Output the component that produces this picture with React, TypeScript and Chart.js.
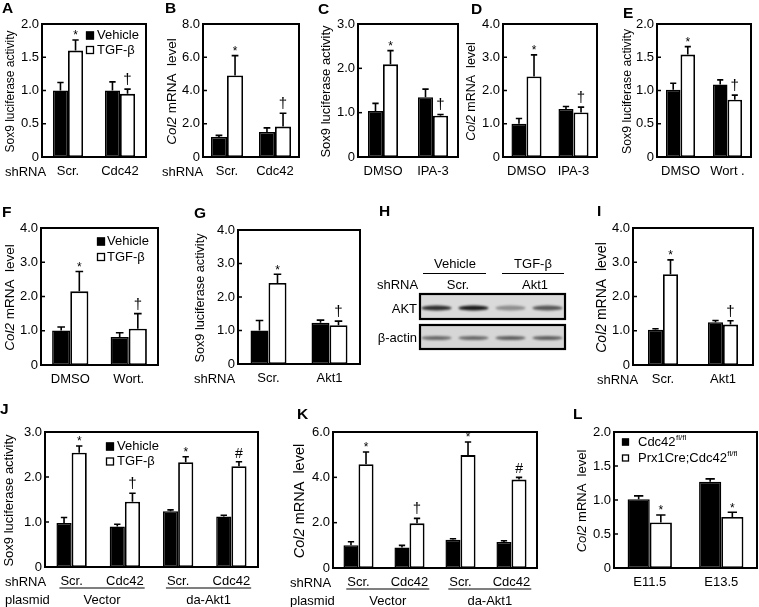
import React, { useEffect, useRef } from "react";
import { Chart, registerables } from "chart.js";

Chart.register(...registerables);

const PAGE_W = 759;
const PAGE_H = 607;
const FONT = "'Liberation Sans', Arial, Helvetica, sans-serif";
const YW = 32;
const XH = 24;

// ---------------- data ----------------
const seriesMain = ["Vehicle", "TGF-β"];
const seriesL = ["Cdc42", "Prx1Cre;Cdc42"];
const seriesSupL = ["fl/fl", "fl/fl"];

const catsA = ["Scr.", "Cdc42"];
const vehA = [1.0, 1.0];
const vehErrA = [1.12, 1.13];
const tgfA = [1.6, 0.95];
const tgfErrA = [1.76, 1.02];
const marksA = ["*", "†"];
const yTicksA = [0, 0.5, 1.0, 1.5, 2.0];

const catsB = ["Scr.", "Cdc42"];
const vehB = [1.2, 1.5];
const vehErrB = [1.3, 1.75];
const tgfB = [4.9, 1.83];
const tgfErrB = [6.1, 2.63];
const marksB = ["*", "†"];
const yTicksB = [0, 2.0, 4.0, 6.0, 8.0];

const catsC = ["DMSO", "IPA-3"];
const vehC = [1.04, 1.35];
const vehErrC = [1.21, 1.53];
const tgfC = [2.09, 0.93];
const tgfErrC = [2.4, 0.96];
const marksC = ["*", "†"];
const yTicksC = [0, 1.0, 2.0, 3.0];

const catsD = ["DMSO", "IPA-3"];
const vehD = [1.0, 1.44];
const vehErrD = [1.16, 1.52];
const tgfD = [2.42, 1.34];
const tgfErrD = [3.07, 1.5];
const marksD = ["*", "†"];
const yTicksD = [0, 1.0, 2.0, 3.0, 4.0];

const catsE = ["DMSO", "Wort ."];
const vehE = [1.01, 1.09];
const vehErrE = [1.11, 1.16];
const tgfE = [1.54, 0.86];
const tgfErrE = [1.66, 0.93];
const marksE = ["*", "†"];
const yTicksE = [0, 0.5, 1.0, 1.5, 2.0];

const catsF = ["DMSO", "Wort."];
const vehF = [1.01, 0.82];
const vehErrF = [1.11, 0.94];
const tgfF = [2.15, 1.06];
const tgfErrF = [2.73, 1.5];
const marksF = ["*", "†"];
const yTicksF = [0, 1.0, 2.0, 3.0, 4.0];

const catsG = ["Scr.", "Akt1"];
const vehG = [1.0, 1.23];
const vehErrG = [1.3, 1.31];
const tgfG = [2.42, 1.16];
const tgfErrG = [2.68, 1.28];
const marksG = ["*", "†"];
const yTicksG = [0, 1.0, 2.0, 3.0, 4.0];

const catsI = ["Scr.", "Akt1"];
const vehI = [1.03, 1.25];
const vehErrI = [1.06, 1.3];
const tgfI = [2.65, 1.18];
const tgfErrI = [3.07, 1.29];
const marksI = ["*", "†"];
const yTicksI = [0, 1.0, 2.0, 3.0, 4.0];

const catsJ = ["Scr.", "Cdc42", "Scr.", "Cdc42"];
const groupsJ = ["Vector", "da-Akt1"];
const vehJ = [0.98, 0.9, 1.24, 1.12];
const vehErrJ = [1.1, 0.95, 1.27, 1.15];
const tgfJ = [2.54, 1.45, 2.33, 2.24];
const tgfErrJ = [2.69, 1.64, 2.45, 2.34];
const marksJ = ["*", "†", "*", "#"];
const yTicksJ = [0, 1.0, 2.0, 3.0];

const catsK = ["Scr.", "Cdc42", "Scr.", "Cdc42"];
const groupsK = ["Vector", "da-Akt1"];
const vehK = [1.0, 0.9, 1.25, 1.15];
const vehErrK = [1.16, 1.0, 1.29, 1.2];
const tgfK = [4.58, 1.97, 4.98, 3.9];
const tgfErrK = [5.12, 2.19, 5.56, 4.0];
const marksK = ["*", "†", "*", "#"];
const yTicksK = [0, 2.0, 4.0, 6.0];

const catsL = ["E11.5", "E13.5"];
const ctrlL = [1.01, 1.27];
const ctrlErrL = [1.06, 1.31];
const koL = [0.67, 0.75];
const koErrL = [0.78, 0.82];
const marksL = ["*", "*"];
const yTicksL = [0, 0.5, 1.0, 1.5, 2.0];

// blot (panel H)
const laneIds = ["Vehicle Scr. 1", "Vehicle Scr. 2", "TGF-β Akt1 1", "TGF-β Akt1 2"];
const aktBands = [0.85, 0.95, 0.38, 0.65];
const actinBands = [0.55, 0.55, 0.6, 0.6];

// ---------------- layout specs ----------------
type Legend = { x: number; y: number; gap: number; dx: number; size: number; sups?: string[] };
type Spec = {
  letter: string;
  letterX: number;
  letterY: number;
  box: [number, number, number, number];
  cats: string[];
  names: string[];
  a: number[];
  aErr: number[];
  b: number[];
  bErr: number[];
  marks: string[];
  yTicks: number[];
  title: "sox" | "col2";
  titleX: number;
  titleSize: number;
  catPct: number;
  shRNAx?: number;
  plasmidX?: number;
  groups?: string[];
  legend?: Legend;
};

const specs: Spec[] = [
  { letter: "A", letterX: 2, letterY: 9, box: [42, 24, 146, 157], cats: catsA, names: seriesMain, a: vehA, aErr: vehErrA, b: tgfA, bErr: tgfErrA, marks: marksA, yTicks: yTicksA, title: "sox", titleX: 11, titleSize: 12, catPct: 0.58, shRNAx: 5, legend: { x: 86, y: 35.5, gap: 14.5, dx: 11, size: 8 } },
  { letter: "B", letterX: 165, letterY: 9, box: [203, 24, 299, 157], cats: catsB, names: seriesMain, a: vehB, aErr: vehErrB, b: tgfB, bErr: tgfErrB, marks: marksB, yTicks: yTicksB, title: "col2", titleX: 172, titleSize: 13.5, catPct: 0.67, shRNAx: 162 },
  { letter: "C", letterX: 318, letterY: 10, box: [358, 24, 458, 157], cats: catsC, names: seriesMain, a: vehC, aErr: vehErrC, b: tgfC, bErr: tgfErrC, marks: marksC, yTicks: yTicksC, title: "sox", titleX: 326, titleSize: 13, catPct: 0.6 },
  { letter: "D", letterX: 471, letterY: 10, box: [503, 24, 597, 157], cats: catsD, names: seriesMain, a: vehD, aErr: vehErrD, b: tgfD, bErr: tgfErrD, marks: marksD, yTicks: yTicksD, title: "col2", titleX: 472, titleSize: 12.5, catPct: 0.64 },
  { letter: "E", letterX: 623, letterY: 14, box: [657, 24, 751, 157], cats: catsE, names: seriesMain, a: vehE, aErr: vehErrE, b: tgfE, bErr: tgfErrE, marks: marksE, yTicks: yTicksE, title: "sox", titleX: 628, titleSize: 12.3, catPct: 0.62 },
  { letter: "F", letterX: 2, letterY: 212.5, box: [41, 228, 158, 365], cats: catsF, names: seriesMain, a: vehF, aErr: vehErrF, b: tgfF, bErr: tgfErrF, marks: marksF, yTicks: yTicksF, title: "col2", titleX: 10, titleSize: 13.5, catPct: 0.62, legend: { x: 97, y: 241.5, gap: 15.5, dx: 10, size: 8 } },
  { letter: "G", letterX: 194, letterY: 213.5, box: [238, 230, 360, 364], cats: catsG, names: seriesMain, a: vehG, aErr: vehErrG, b: tgfG, bErr: tgfErrG, marks: marksG, yTicks: yTicksG, title: "sox", titleX: 200, titleSize: 12.7, catPct: 0.59, shRNAx: 194 },
  { letter: "I", letterX: 597, letterY: 212, box: [633, 228, 753, 365], cats: catsI, names: seriesMain, a: vehI, aErr: vehErrI, b: tgfI, bErr: tgfErrI, marks: marksI, yTicks: yTicksI, title: "col2", titleX: 602, titleSize: 14, catPct: 0.5, shRNAx: 597 },
  { letter: "J", letterX: 0, letterY: 410, box: [45, 432, 258, 567], cats: catsJ, names: seriesMain, a: vehJ, aErr: vehErrJ, b: tgfJ, bErr: tgfErrJ, marks: marksJ, yTicks: yTicksJ, title: "sox", titleX: 9, titleSize: 13, catPct: 0.57, shRNAx: 5, plasmidX: 5, groups: groupsJ, legend: { x: 106, y: 446.5, gap: 15, dx: 11, size: 8 } },
  { letter: "K", letterX: 297, letterY: 414.5, box: [333, 432, 537, 568], cats: catsK, names: seriesMain, a: vehK, aErr: vehErrK, b: tgfK, bErr: tgfErrK, marks: marksK, yTicks: yTicksK, title: "col2", titleX: 300, titleSize: 14.5, catPct: 0.59, shRNAx: 290, plasmidX: 290, groups: groupsK },
  { letter: "L", letterX: 573, letterY: 414.5, box: [614, 432, 757, 568], cats: catsL, names: seriesL, a: ctrlL, aErr: ctrlErrL, b: koL, bErr: koErrL, marks: marksL, yTicks: yTicksL, title: "col2", titleX: 582, titleSize: 13, catPct: 0.62, legend: { x: 622, y: 442, gap: 16, dx: 16, size: 7, sups: seriesSupL } },
];

// ---------------- drawing helpers ----------------
function font(size: number, style = "") {
  return `${style ? style + " " : ""}${size}px ${FONT}`;
}

function txt(ctx: CanvasRenderingContext2D, s: string, x: number, y: number, size: number, align: CanvasTextAlign = "left", style = "") {
  ctx.font = font(size, style);
  ctx.textAlign = align;
  ctx.textBaseline = "middle";
  ctx.fillStyle = "#000";
  ctx.fillText(s, x, y);
}

function drawYTitle(ctx: CanvasRenderingContext2D, kind: "sox" | "col2", x: number, yc: number, size: number) {
  ctx.save();
  ctx.translate(x, yc);
  ctx.rotate(-Math.PI / 2);
  ctx.fillStyle = "#000";
  ctx.textBaseline = "middle";
  if (kind === "sox") {
    ctx.font = font(size);
    ctx.textAlign = "center";
    ctx.fillText("Sox9 luciferase activity", 0, 0);
  } else {
    const p1 = "Col2";
    const p2 = " mRNA  level";
    ctx.font = font(size, "italic");
    const w1 = ctx.measureText(p1).width;
    ctx.font = font(size);
    const w2 = ctx.measureText(p2).width;
    const sx = -(w1 + w2) / 2;
    ctx.textAlign = "left";
    ctx.font = font(size, "italic");
    ctx.fillText(p1, sx, 0);
    ctx.font = font(size);
    ctx.fillText(p2, sx + w1, 0);
  }
  ctx.restore();
}

function makeDeco(spec: Spec) {
  return {
    id: "panelDeco",
    afterDatasetsDraw(chart: any) {
      const ctx: CanvasRenderingContext2D = chart.ctx;
      const ys = chart.scales.y;
      const xs = chart.scales.x;
      const ca = chart.chartArea;
      ctx.save();
      ctx.strokeStyle = "#000";
      ctx.fillStyle = "#000";

      // error bars
      const vals = [spec.a, spec.b];
      const errs = [spec.aErr, spec.bErr];
      for (let k = 0; k < 2; k++) {
        const meta = chart.getDatasetMeta(k);
        meta.data.forEach((el: any, i: number) => {
          const x = el.x;
          const y0 = ys.getPixelForValue(vals[k][i]);
          const y1 = ys.getPixelForValue(errs[k][i]);
          const cw = Math.max(5, el.width * 0.42);
          ctx.lineWidth = 1.6;
          ctx.beginPath();
          ctx.moveTo(x, y0);
          ctx.lineTo(x, y1);
          ctx.moveTo(x - cw / 2, y1);
          ctx.lineTo(x + cw / 2, y1);
          ctx.stroke();
        });
      }

      // significance marks
      const metaB = chart.getDatasetMeta(1);
      metaB.data.forEach((el: any, i: number) => {
        const m = spec.marks[i];
        if (!m) return;
        const yTop = ys.getPixelForValue(spec.bErr[i]);
        ctx.textAlign = "center";
        ctx.textBaseline = "alphabetic";
        if (m === "*") {
          ctx.font = font(12);
          ctx.fillText(m, el.x, yTop - 0.5);
        } else if (m === "†") {
          ctx.font = font(15);
          ctx.fillText(m, el.x, yTop - 5);
        } else {
          ctx.font = font(14);
          ctx.fillText(m, el.x, yTop - 4);
        }
      });

      // inward y ticks
      ctx.lineWidth = 1.5;
      ys.ticks.forEach((t: any, i: number) => {
        if (i === 0 || i === ys.ticks.length - 1) return;
        const py = ys.getPixelForValue(t.value);
        ctx.beginPath();
        ctx.moveTo(ca.left, py);
        ctx.lineTo(ca.left + 4, py);
        ctx.stroke();
      });

      // plot frame
      ctx.lineWidth = 2;
      ctx.strokeRect(ca.left, ca.top, ca.right - ca.left, ca.bottom - ca.top);

      // legend
      if (spec.legend) {
        const lg = spec.legend;
        spec.names.forEach((name, i) => {
          const cy = lg.y + i * lg.gap;
          ctx.lineWidth = 1.3;
          ctx.fillStyle = i === 0 ? "#000" : "#fff";
          ctx.fillRect(lg.x, cy - lg.size / 2, lg.size, lg.size);
          ctx.strokeStyle = "#000";
          ctx.strokeRect(lg.x + 0.5, cy - lg.size / 2 + 0.5, lg.size - 1, lg.size - 1);
          txt(ctx, name, lg.x + lg.dx, cy, 13);
          if (lg.sups) {
            ctx.font = font(13);
            const w = ctx.measureText(name).width;
            txt(ctx, lg.sups[i], lg.x + lg.dx + w + 0.5, cy - 4, 8);
          }
        });
      }

      // y title
      drawYTitle(ctx, spec.title, spec.titleX, (ca.top + ca.bottom) / 2 + 1, spec.titleSize);

      // panel letter
      txt(ctx, spec.letter, spec.letterX, spec.letterY, 15.5, "left", "bold");

      // row labels
      const rowY = ca.bottom + 15.5;
      if (spec.shRNAx !== undefined) txt(ctx, "shRNA", spec.shRNAx, rowY, 13);
      if (spec.groups) {
        const gy = ca.bottom + 33;
        if (spec.plasmidX !== undefined) txt(ctx, "plasmid", spec.plasmidX, gy, 13);
        ctx.font = font(13);
        spec.groups.forEach((g, gi) => {
          const i0 = gi * 2;
          const i1 = gi * 2 + 1;
          const l = xs.getPixelForValue(i0) - ctx.measureText(spec.cats[i0]).width / 2 - 1;
          const r = xs.getPixelForValue(i1) + ctx.measureText(spec.cats[i1]).width / 2 + 1;
          ctx.strokeStyle = "#000";
          ctx.lineWidth = 1.2;
          ctx.beginPath();
          ctx.moveTo(l, ca.bottom + 21);
          ctx.lineTo(r, ca.bottom + 21);
          ctx.stroke();
          txt(ctx, g, (l + r) / 2, gy, 13, "center");
          ctx.font = font(13);
        });
      }
      ctx.restore();
    },
  };
}

function buildConfig(spec: Spec): any {
  const [bl, bt, br, bb] = spec.box;
  const tickVals = spec.yTicks;
  return {
    type: "bar",
    data: {
      labels: spec.cats,
      datasets: [
        { label: spec.names[0], data: spec.a, backgroundColor: "#000", borderColor: "#000", borderWidth: 1.5, borderSkipped: false, barPercentage: 1, categoryPercentage: spec.catPct },
        { label: spec.names[1], data: spec.b, backgroundColor: "#fff", borderColor: "#000", borderWidth: 1.8, borderSkipped: false, barPercentage: 1, categoryPercentage: spec.catPct },
      ],
    },
    options: {
      responsive: false,
      animation: false,
      devicePixelRatio: 1,
      events: [],
      layout: { padding: { left: bl - YW, top: bt, right: PAGE_W - br, bottom: PAGE_H - bb - XH } },
      plugins: { legend: { display: false }, tooltip: { enabled: false }, title: { display: false } },
      scales: {
        x: {
          type: "category",
          offset: true,
          grid: { display: false, drawTicks: false },
          border: { display: false },
          ticks: { color: "#000", font: { size: 13, family: FONT }, padding: 7, maxRotation: 0, autoSkip: false },
          afterFit: (s: any) => { s.height = XH; },
        },
        y: {
          type: "linear",
          min: tickVals[0],
          max: tickVals[tickVals.length - 1],
          grid: { display: false, drawTicks: false },
          border: { display: false },
          ticks: {
            color: "#000",
            font: { size: 13, family: FONT },
            padding: 3,
            callback: (v: any) => (Number(v) === 0 ? "0" : Number(v).toFixed(1)),
          },
          afterBuildTicks: (s: any) => { s.ticks = tickVals.map((v) => ({ value: v })); },
          afterFit: (s: any) => { s.width = YW; },
        },
      },
    },
    plugins: [makeDeco(spec)],
  };
}

function BarPanel({ spec }: { spec: Spec }) {
  const ref = useRef<HTMLCanvasElement>(null);
  useEffect(() => {
    const chart = new Chart(ref.current as HTMLCanvasElement, buildConfig(spec));
    return () => chart.destroy();
  }, [spec]);
  return <canvas ref={ref} width={PAGE_W} height={PAGE_H} style={{ position: "absolute", left: 0, top: 0 }} />;
}

// ---------------- Blot panel (H) ----------------
const blotDeco = {
  id: "blotDeco",
  afterDraw(chart: any) {
    const ctx: CanvasRenderingContext2D = chart.ctx;
    const xs = chart.scales.x;
    ctx.save();
    txt(ctx, "H", 379, 211.5, 15.5, "left", "bold");
    txt(ctx, "Vehicle", 455, 264.5, 13, "center");
    txt(ctx, "TGF-β", 533, 264.5, 13, "center");
    ctx.strokeStyle = "#000";
    ctx.lineWidth = 1.2;
    ctx.beginPath();
    ctx.moveTo(423, 273.5);
    ctx.lineTo(486, 273.5);
    ctx.moveTo(502, 273.5);
    ctx.lineTo(564, 273.5);
    ctx.stroke();
    txt(ctx, "shRNA", 377, 285.5, 13);
    txt(ctx, "Scr.", 458, 285.5, 13, "center");
    txt(ctx, "Akt1", 535, 285.5, 13, "center");
    txt(ctx, "AKT", 417, 309.5, 13, "right");
    txt(ctx, "β-actin", 417, 338.5, 13, "right");

    const boxes = [
      { top: 294, bot: 319, bands: chart.data.datasets[0].data as number[], bandY: 308, bh: 2.6, bg: "#dadada" },
      { top: 325, bot: 349, bands: chart.data.datasets[1].data as number[], bandY: 338, bh: 2.0, bg: "#d6d6d6" },
    ];
    boxes.forEach((b) => {
      ctx.fillStyle = b.bg;
      ctx.fillRect(420, b.top, 145, b.bot - b.top);
      ctx.save();
      ctx.beginPath();
      ctx.rect(420, b.top, 145, b.bot - b.top);
      ctx.clip();
      ctx.filter = "blur(1.2px)";
      b.bands.forEach((v, i) => {
        const cx = xs.getPixelForValue(i);
        ctx.fillStyle = `rgba(15,15,15,${v})`;
        ctx.beginPath();
        ctx.ellipse(cx, b.bandY, 15, b.bh, 0, 0, Math.PI * 2);
        ctx.fill();
      });
      ctx.restore();
      ctx.strokeStyle = "#000";
      ctx.lineWidth = 2.2;
      ctx.strokeRect(420, b.top, 145, b.bot - b.top);
    });
    ctx.restore();
  },
};

function BlotPanel() {
  const ref = useRef<HTMLCanvasElement>(null);
  useEffect(() => {
    const chart = new Chart(ref.current as HTMLCanvasElement, {
      type: "bar",
      data: {
        labels: laneIds,
        datasets: [
          { label: "AKT", data: aktBands, backgroundColor: "rgba(0,0,0,0)" },
          { label: "β-actin", data: actinBands, backgroundColor: "rgba(0,0,0,0)" },
        ],
      },
      options: {
        responsive: false,
        animation: false,
        devicePixelRatio: 1,
        events: [],
        layout: { padding: { left: 418, right: PAGE_W - 566, top: 294, bottom: PAGE_H - 349 } },
        plugins: { legend: { display: false }, tooltip: { enabled: false } },
        scales: { x: { display: false, offset: true }, y: { display: false, min: 0, max: 1 } },
      },
      plugins: [blotDeco],
    } as any);
    return () => chart.destroy();
  }, []);
  return <canvas ref={ref} width={PAGE_W} height={PAGE_H} style={{ position: "absolute", left: 0, top: 0 }} />;
}

export default function App() {
  return (
    <div style={{ position: "absolute", left: 0, top: 0, width: PAGE_W, height: PAGE_H, background: "#fff", overflow: "hidden" }}>
      {specs.map((s) => (
        <BarPanel key={s.letter} spec={s} />
      ))}
      <BlotPanel />
    </div>
  );
}
